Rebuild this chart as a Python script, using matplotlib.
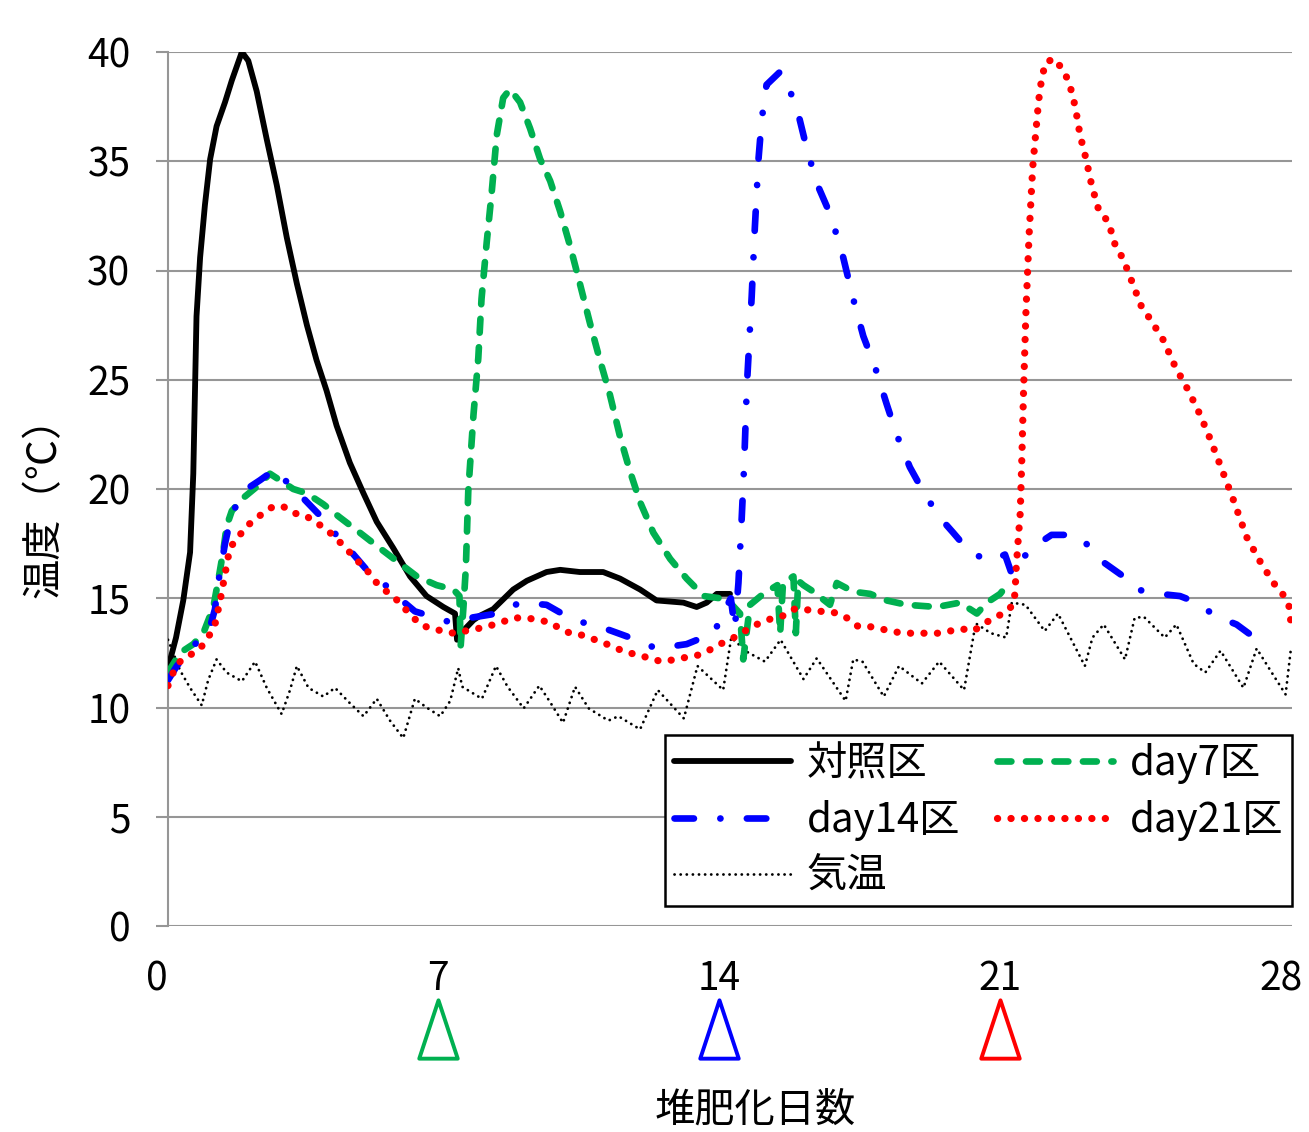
import numpy as np
import matplotlib
matplotlib.use("Agg")
import matplotlib.pyplot as plt
from matplotlib.path import Path
import matplotlib.transforms as mtransforms

plt.rcParams['lines.scale_dashes'] = False

# (day, temperature)
ctrl = [(0.0, 11.8), (0.2, 13.2), (0.38, 14.9), (0.55, 17.1), (0.63, 20.7), (0.67, 24.3),
        (0.71, 27.9), (0.80, 30.6), (0.92, 33.0), (1.05, 35.1), (1.21, 36.6), (1.42, 37.7),
        (1.59, 38.7), (1.84, 40.0), (2.0, 39.6), (2.21, 38.2), (2.46, 36.0), (2.71, 33.9),
        (2.96, 31.5), (3.21, 29.4), (3.46, 27.5), (3.70, 25.9), (3.95, 24.5), (4.20, 22.9),
        (4.53, 21.2), (4.87, 19.8), (5.20, 18.5), (5.61, 17.3), (6.03, 16.0), (6.44, 15.1),
        (6.86, 14.6), (7.15, 14.3), (7.20, 13.1), (7.27, 13.4), (7.40, 13.6), (7.61, 14.0),
        (7.77, 14.2), (8.10, 14.5), (8.60, 15.4), (8.94, 15.8), (9.43, 16.2), (9.77, 16.3),
        (10.26, 16.2), (10.84, 16.2), (11.26, 15.9), (11.76, 15.4), (12.17, 14.9),
        (12.84, 14.8), (13.17, 14.6), (13.42, 14.8), (13.67, 15.2), (14.0, 15.2)]

day7 = [(0.0, 11.6), (0.30, 12.5), (0.63, 12.9), (0.88, 13.4), (1.13, 14.6), (1.25, 15.8),
        (1.38, 17.2), (1.46, 18.3), (1.59, 19.0), (1.88, 19.6), (2.21, 20.1), (2.54, 20.7),
        (2.79, 20.4), (3.12, 20.0), (3.46, 19.8), (3.87, 19.3), (4.28, 18.7), (4.78, 18.0),
        (5.20, 17.4), (5.70, 16.7), (6.20, 16.0), (6.69, 15.6), (7.11, 15.4), (7.26, 15.1),
        (7.29, 12.8), (7.36, 14.6), (7.42, 16.4), (7.48, 19.9), (7.61, 23.4), (7.73, 26.0),
        (7.81, 28.7), (7.94, 31.3), (8.06, 33.5), (8.19, 36.2), (8.35, 37.9), (8.52, 38.3),
        (8.77, 37.7), (9.02, 36.5), (9.27, 35.1), (9.52, 34.1), (9.77, 32.7), (10.02, 31.1),
        (10.26, 29.4), (10.51, 27.6), (10.76, 25.9), (11.01, 24.3), (11.26, 22.4),
        (11.51, 20.8), (11.76, 19.4), (12.09, 18.0), (12.51, 16.8), (12.92, 15.9),
        (13.35, 15.1), (13.75, 15.0), (14.0, 14.8), (14.25, 14.3), (14.33, 12.2),
        (14.5, 14.7), (14.83, 15.2), (15.18, 15.6), (15.25, 13.4), (15.32, 15.7),
        (15.58, 16.0), (15.64, 13.4), (15.70, 15.8), (15.83, 15.6), (16.08, 15.3),
        (16.49, 14.7), (16.66, 15.7), (17.07, 15.3), (17.49, 15.2), (17.90, 14.9),
        (18.40, 14.7), (19.15, 14.6), (19.73, 14.8), (20.15, 14.3), (20.40, 14.8),
        (20.73, 15.2), (20.98, 15.8)]

day14 = [(0.0, 11.25), (0.22, 11.9), (0.63, 12.8), (1.05, 13.7), (1.17, 14.5), (1.25, 15.7),
         (1.42, 17.5), (1.59, 18.9), (1.96, 20.0), (2.29, 20.4), (2.67, 20.9), (3.12, 20.0),
         (3.41, 19.5), (3.83, 18.7), (4.28, 17.7), (4.53, 17.2), (4.95, 16.3), (5.36, 15.7),
         (5.70, 15.1), (6.15, 14.4), (6.69, 14.1), (7.03, 13.9), (7.11, 13.9), (7.52, 14.1),
         (8.19, 14.3), (8.77, 14.8), (9.43, 14.7), (10.10, 14.0), (10.76, 13.7),
         (11.51, 13.2), (12.17, 12.7), (12.92, 12.9), (13.59, 13.4), (14.02, 15.0),
         (14.12, 13.6), (14.21, 15.7), (14.29, 18.6), (14.35, 21.0), (14.42, 24.7),
         (14.54, 28.8), (14.62, 32.0), (14.71, 35.1), (14.79, 36.9), (14.91, 38.5),
         (15.25, 39.1), (15.50, 38.2), (15.71, 37.1), (15.91, 35.6), (16.16, 34.0),
         (16.49, 32.6), (16.78, 30.9), (17.07, 28.7), (17.32, 27.0), (17.61, 25.6),
         (17.90, 23.9), (18.15, 22.5), (18.48, 21.0), (18.90, 19.6), (19.32, 18.5),
         (19.56, 18.0), (19.98, 17.1), (20.48, 16.7), (20.85, 17.0), (21.02, 16.1),
         (21.23, 16.7), (21.52, 17.3), (22.01, 17.9), (22.64, 17.9), (22.93, 17.4),
         (23.34, 16.6), (23.80, 16.0), (24.13, 15.4), (24.71, 15.2), (25.21, 15.1),
         (25.63, 14.8), (26.08, 14.2), (26.62, 13.8), (26.99, 13.3), (27.54, 13.0)]

day21 = [(0.0, 11.0), (0.13, 11.6), (0.30, 12.1), (0.55, 12.4), (0.80, 12.7), (1.00, 13.2),
         (1.17, 13.8), (1.30, 14.9), (1.42, 16.1), (1.54, 17.3), (1.75, 17.8), (1.96, 18.3),
         (2.37, 18.9), (2.62, 19.2), (2.87, 19.2), (3.12, 18.9), (3.41, 18.8), (3.66, 18.5),
         (3.91, 18.2), (4.16, 17.8), (4.37, 17.4), (4.58, 17.0), (4.78, 16.6), (4.99, 16.2),
         (5.20, 15.7), (5.45, 15.3), (5.66, 15.0), (5.86, 14.6), (6.07, 14.2), (6.28, 13.8),
         (6.57, 13.6), (6.86, 13.5), (7.11, 13.4), (7.40, 13.5), (7.69, 13.6), (7.94, 13.7),
         (8.31, 13.9), (8.60, 14.1), (8.94, 14.1), (9.23, 14.0), (9.52, 13.9), (9.77, 13.6),
         (10.02, 13.4), (10.35, 13.3), (10.64, 13.1), (10.93, 12.9), (11.18, 12.7),
         (11.47, 12.5), (11.76, 12.4), (12.05, 12.2), (12.34, 12.1), (12.63, 12.2),
         (12.92, 12.3), (13.21, 12.4), (13.46, 12.6), (13.75, 12.9), (14.0, 13.1),
         (14.29, 13.4), (14.54, 13.7), (14.79, 13.9), (15.08, 14.1), (15.33, 14.2),
         (15.58, 14.5), (15.83, 14.5), (16.16, 14.4), (16.45, 14.4), (16.70, 14.3),
         (16.91, 14.1), (17.20, 13.7), (17.49, 13.7), (17.74, 13.6), (18.03, 13.5),
         (18.28, 13.4), (18.53, 13.4), (18.86, 13.4), (19.19, 13.4), (19.48, 13.5),
         (19.77, 13.6), (20.06, 13.5), (20.31, 13.8), (20.56, 14.1), (20.81, 14.3),
         (21.06, 14.7), (21.10, 15.25), (21.13, 16.4), (21.18, 17.7), (21.23, 18.9),
         (21.27, 21.4), (21.31, 24.3), (21.37, 28.0), (21.45, 31.6), (21.54, 34.7),
         (21.66, 37.2), (21.72, 38.3), (21.85, 39.5), (22.07, 39.7), (22.29, 39.2),
         (22.45, 38.6), (22.60, 37.5), (22.72, 36.2), (22.87, 35.1), (23.01, 33.9),
         (23.18, 32.8), (23.43, 32.2), (23.59, 31.2), (23.80, 30.5), (24.01, 29.5),
         (24.26, 28.3), (24.46, 27.8), (24.80, 26.8), (25.09, 25.6), (25.42, 24.5),
         (25.71, 23.4), (25.96, 22.3), (26.21, 21.1), (26.54, 19.5), (26.87, 17.8),
         (27.20, 16.7), (27.54, 15.7), (27.75, 15.25), (27.92, 14.7), (28.0, 13.5)]

air = [(0.0, 13.1), (0.13, 12.5), (0.30, 11.7), (0.55, 10.9), (0.84, 10.1), (1.00, 11.25),
       (1.21, 12.2), (1.46, 11.6), (1.84, 11.2), (2.17, 12.1), (2.46, 10.9), (2.83, 9.7),
       (3.04, 10.8), (3.21, 11.9), (3.50, 10.9), (3.87, 10.5), (4.16, 10.9), (4.53, 10.2),
       (4.87, 9.6), (5.20, 10.4), (5.53, 9.4), (5.86, 8.6), (6.15, 10.4), (6.44, 10.0),
       (6.78, 9.6), (7.03, 10.3), (7.23, 11.8), (7.33, 10.95), (7.82, 10.4), (8.17, 11.9),
       (8.46, 10.95), (8.86, 9.96), (9.25, 11.0), (9.50, 10.3), (9.84, 9.3), (10.14, 10.95),
       (10.48, 9.96), (10.97, 9.4), (11.22, 9.6), (11.76, 9.0), (12.20, 10.8), (12.50, 10.2),
       (12.85, 9.5), (13.19, 11.9), (13.83, 10.8), (14.03, 13.2), (14.42, 12.55),
       (14.87, 12.1), (15.26, 13.1), (15.83, 11.3), (16.16, 12.25), (16.88, 10.3),
       (17.07, 12.2), (17.30, 12.1), (17.83, 10.5), (18.21, 11.9), (18.78, 11.1),
       (19.21, 12.1), (19.83, 10.8), (20.12, 13.85), (20.50, 13.4), (20.88, 13.2),
       (21.02, 14.8), (21.36, 14.7), (21.84, 13.5), (22.17, 14.3), (22.84, 11.9),
       (23.03, 13.2), (23.31, 13.8), (23.84, 12.2), (24.08, 14.1), (24.31, 14.15),
       (24.83, 13.2), (25.12, 13.8), (25.55, 12.0), (25.84, 11.6), (26.22, 12.6),
       (26.79, 10.9), (27.12, 12.7), (27.46, 11.7), (27.84, 10.6), (27.98, 12.8)]

x_ticks = [0, 7, 14, 21, 28]
y_ticks = [0, 5, 10, 15, 20, 25, 30, 35, 40]
start_days = [7, 14, 21]
start_colors = ['#00B050', '#0000FF', '#FF0000']

num_font = ['Liberation Sans Narrow', 'Noto Sans CJK JP']
jp_font = ['Noto Sans CJK JP']
grey = '#969696'

fig = plt.figure(figsize=(13.09, 11.32), dpi=100)
ax = fig.add_axes([168 / 1309, 1 - 926 / 1132, 1124 / 1309, 874 / 1132])

a = np.array(air).T
ax.plot(a[0], a[1], color='black', lw=2.0, ls=(0, (0.1, 4.3)),
        dash_capstyle='round', label='気温', zorder=3)
c = np.array(ctrl).T
ax.plot(c[0], c[1], color='black', lw=4.2, solid_joinstyle='round',
        solid_capstyle='round', label='対照区', zorder=4)
g = np.array(day7).T
ax.plot(g[0], g[1], color='#00B050', lw=4.8, ls=(0, (10, 10.5)),
        dash_capstyle='round', label='day7区', zorder=5)
b = np.array(day14).T
ax.plot(b[0], b[1], color='#0000FF', lw=4.8, ls=(0, (14, 19, 0.1, 19)),
        dash_capstyle='round', label='day14区', zorder=6)
r = np.array(day21).T
ax.plot(r[0], r[1], color='#FF0000', lw=5.2, ls=(0, (0.1, 9.6)),
        dash_capstyle='round', label='day21区', zorder=7)

ax.set_xlim(0, 28)
ax.set_ylim(0, 40)
ax.set_xticks(x_ticks)
ax.set_yticks(y_ticks)
ax.yaxis.grid(True, color=grey, lw=1.5)
ax.set_axisbelow(True)
for s in ['top', 'right', 'bottom']:
    ax.spines[s].set_visible(False)
ax.spines['left'].set_color(grey)
ax.spines['left'].set_linewidth(1.5)
ax.tick_params(axis='y', length=9, width=1.5, color=grey, pad=18)
ax.tick_params(axis='x', length=0, pad=24)
for lab in ax.get_yticklabels() + ax.get_xticklabels():
    lab.set_fontfamily(num_font)
    lab.set_fontsize(28)

# x tick labels sit a little left of their grid position in the original
shift = mtransforms.ScaledTranslation(-11 / 100, 0, fig.dpi_scale_trans)
for lab in ax.get_xticklabels():
    lab.set_transform(lab.get_transform() + shift)

# hollow triangles marking when each treatment starts
tri = Path([(-0.33, -0.5), (0.33, -0.5), (0, 0.5), (-0.33, -0.5)],
           [Path.MOVETO, Path.LINETO, Path.LINETO, Path.CLOSEPOLY])
trans = mtransforms.blended_transform_factory(ax.transData, ax.transAxes) + shift
for d, col in zip(start_days, start_colors):
    ax.plot([d], [-0.118], marker=tri, markersize=42, markerfacecolor='white',
            markeredgecolor=col, markeredgewidth=2.8, transform=trans,
            clip_on=False, ls='none')

ax.set_xlabel('堆肥化日数', fontsize=29, family=jp_font)
ax.xaxis.set_label_coords(0.522, -0.187)
ax.set_ylabel('温度（℃）', fontsize=29, family=jp_font)
ax.yaxis.set_label_coords(-0.092, 0.49)

h, l = ax.get_legend_handles_labels()
order = [1, 3, 0, 2, 4]
leg = ax.legend([h[i] for i in order], [l[i] for i in order], ncol=2,
                loc='lower right', bbox_to_anchor=(1.0, 0.023), borderaxespad=0,
                prop={'family': num_font, 'size': 29}, handlelength=2.9,
                handletextpad=0.4, columnspacing=0.9, labelspacing=0.38,
                borderpad=0.22, fancybox=False, framealpha=1, edgecolor='black')
leg.get_frame().set_linewidth(1.8)

fig.savefig('out.png', dpi=100)
